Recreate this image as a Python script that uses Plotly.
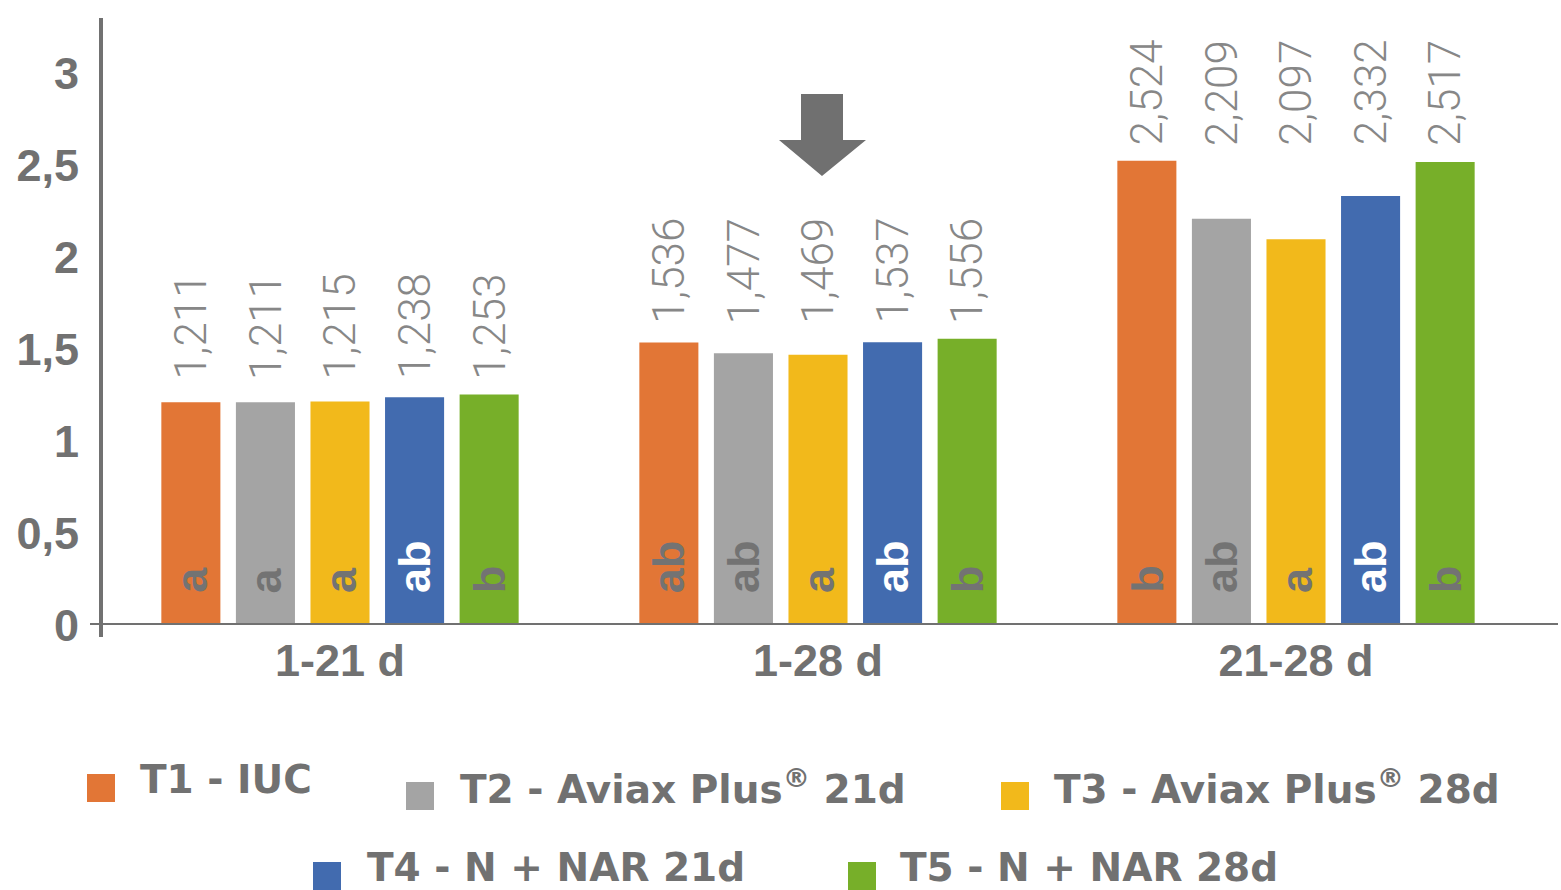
import plotly.graph_objects as go

# Periods and treatments
periods = ["1-21 d", "1-28 d", "21-28 d"]
treatments = [
    "T1 - IUC",
    "T2 - Aviax Plus<sup>®</sup> 21d",
    "T3 - Aviax Plus<sup>®</sup> 28d",
    "T4 - N + NAR 21d",
    "T5 - N + NAR 28d",
]
colors = ["#E27636", "#A4A4A4", "#F2B91B", "#426BAF", "#77AF29"]

# Values per treatment (one entry per period)
t1_values = [1.211, 1.536, 2.524]
t2_values = [1.211, 1.477, 2.209]
t3_values = [1.215, 1.469, 2.097]
t4_values = [1.238, 1.537, 2.332]
t5_values = [1.253, 1.556, 2.517]
values = [t1_values, t2_values, t3_values, t4_values, t5_values]

# Significance letters per treatment (one entry per period)
t1_letters = ["a", "ab", "b"]
t2_letters = ["a", "ab", "ab"]
t3_letters = ["a", "a", "a"]
t4_letters = ["ab", "ab", "ab"]
t5_letters = ["b", "b", "b"]
letters = [t1_letters, t2_letters, t3_letters, t4_letters, t5_letters]
letter_colors = ["#737373", "#737373", "#737373", "#FFFFFF", "#737373"]

y_ticks = [0, 0.5, 1, 1.5, 2, 2.5, 3]
y_tick_text = ["0", "0,5", "1", "1,5", "2", "2,5", "3"]

W, H = 1561, 890
ML, MR, MT, MB = 101, 26, 18, 265
PW, PH = W - ML - MR, H - MT - MB
BARGAP = 0.22
SLOT = (1 - BARGAP) / len(treatments)

GRAY = "#717171"
BOLD = "Liberation Sans, Arial, sans-serif"


def px(x):
    return (x - ML) / PW


def py(y):
    return (H - MB - y) / PH


def fmt(v):
    return f"{v:.3f}".replace(".", ",")


fig = go.Figure()
for name, vals, col in zip(treatments, values, colors):
    fig.add_trace(go.Bar(name=name, x=periods, y=vals, marker=dict(color=col, line=dict(width=0)),
                         showlegend=False, hoverinfo="skip"))

# value labels of a period sit on a common line above its tallest bar
group_max = [max(v[i] for v in values) for i in range(len(periods))]

annotations = []
for j, (vals, lets) in enumerate(zip(values, letters)):
    off = (j - (len(treatments) - 1) / 2) * SLOT
    for i, (v, let) in enumerate(zip(vals, lets)):
        annotations.append(dict(
            x=i + off, y=group_max[i], xref="x", yref="y", text=fmt(v), showarrow=False,
            textangle=-90, xanchor="center", yanchor="bottom", yshift=13,
            font=dict(family="Roboto, sans-serif", size=44, color="#878787", weight=300),
        ))
        # significance letter at the base of the bar
        annotations.append(dict(
            x=i + off, y=0, xref="x", yref="y", text=let, showarrow=False,
            textangle=-90, xanchor="center", yanchor="bottom", yshift=30,
            font=dict(family=BOLD, size=45, color=letter_colors[j], weight="bold"),
        ))

# Legend: colour squares and labels
legend_items = [
    (87, 774, 138, 779),
    (406, 782, 458, 787),
    (1001, 782, 1052, 787),
    (313, 862, 365, 867),
    (848, 862, 898, 867),
]
shapes = []
for (sx, sy, tx, ty), name, col in zip(legend_items, treatments, colors):
    shapes.append(dict(type="rect", xref="paper", yref="paper",
                       x0=px(sx), x1=px(sx + 28), y0=py(sy), y1=py(sy + 28),
                       fillcolor=col, line=dict(width=0)))
    annotations.append(dict(
        x=px(tx), y=py(ty), xref="paper", yref="paper", text=name, showarrow=False,
        xanchor="left", yanchor="middle",
        font=dict(family="DejaVu Sans, sans-serif", size=39, color=GRAY, weight="bold"),
    ))

# Axis lines
shapes.append(dict(type="line", xref="paper", yref="y", x0=px(90), x1=px(1558), y0=0, y1=0,
                   line=dict(color=GRAY, width=4)))
shapes.append(dict(type="line", xref="paper", yref="paper", x0=0, x1=0, y0=py(637), y1=py(18),
                   line=dict(color=GRAY, width=4)))

# Down arrow over the middle period
arrow = [(801, 94), (843, 94), (843, 140), (866, 140), (822, 176), (779, 140), (801, 140)]
path = "M " + " L ".join(f"{px(a):.5f},{py(b):.5f}" for a, b in arrow) + " Z"
shapes.append(dict(type="path", xref="paper", yref="paper", path=path,
                   fillcolor="#707070", line=dict(width=0)))

fig.update_layout(
    width=W, height=H,
    margin=dict(l=ML, r=MR, t=MT, b=MB),
    paper_bgcolor="white", plot_bgcolor="white",
    barmode="group", bargap=BARGAP, bargroupgap=0.208,
    annotations=annotations, shapes=shapes,
    xaxis=dict(showline=False, showgrid=False, zeroline=False, ticks="",
               tickfont=dict(family=BOLD, size=45, color=GRAY, weight="bold"),
               ticklabelstandoff=5),
    yaxis=dict(range=[0, 3.3], tickvals=y_ticks, ticktext=y_tick_text, showline=False,
               showgrid=False, zeroline=False, ticks="", ticklabelstandoff=21,
               tickfont=dict(family=BOLD, size=45, color=GRAY, weight="bold")),
)

fig.write_html("out.html", config={"displayModeBar": False})
